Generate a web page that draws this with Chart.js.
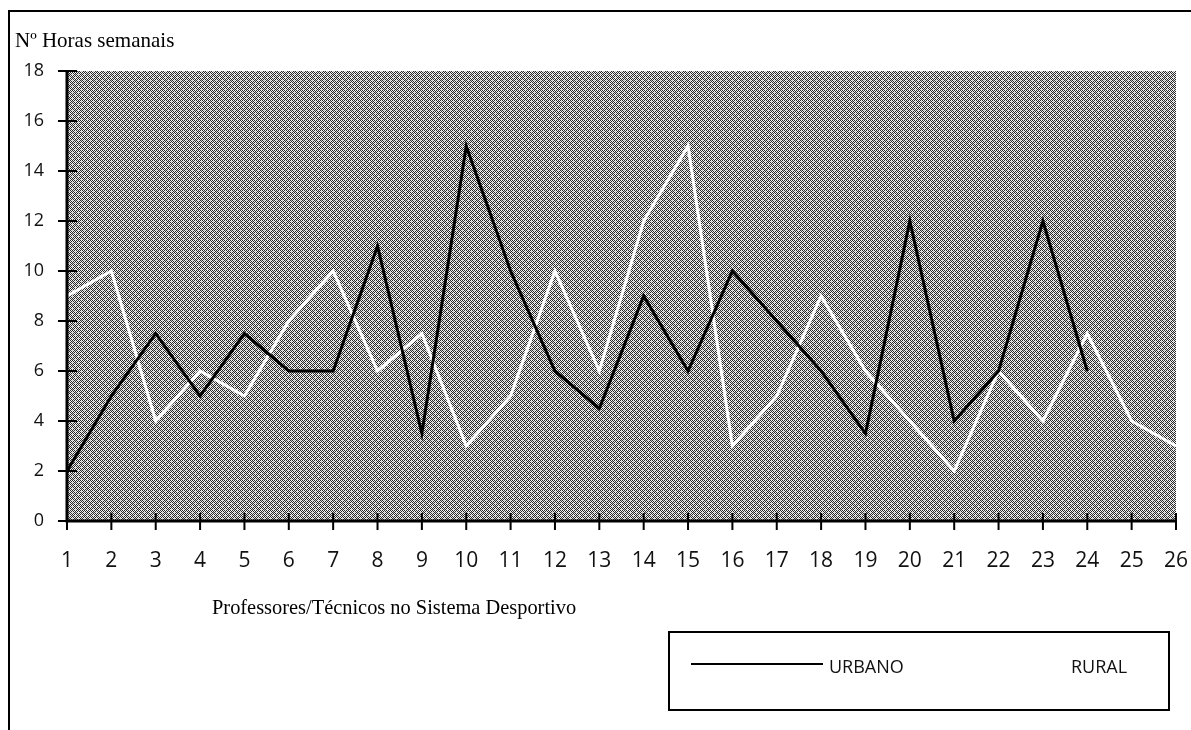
<!DOCTYPE html>
<html>
<head>
<meta charset="utf-8">
<title>Horas semanais - Urbano / Rural</title>
<script src="https://cdn.jsdelivr.net/npm/chart.js@4.4.1/dist/chart.umd.min.js"></script>
<style>
	body { margin: 0; background: #fff; width: 1191px; height: 730px; overflow: hidden; position: relative; }
	#frame { position: absolute; left: 8px; top: 10px; width: 1200px; height: 740px; border-left: 2px solid #000; border-top: 2px solid #000; }
	#chartCanvas { position: absolute; left: 0; top: 0; }
	.serif { position: absolute; font-family: "Liberation Serif", "Times New Roman", serif; color: #000; white-space: nowrap; line-height: 1; }
	#yTitle { left: 15px; top: 30px; font-size: 21px; }
	#xTitle { left: 212px; top: 597px; font-size: 20.4px; }
	#legendBox { position: absolute; left: 668px; top: 631px; width: 498px; height: 76px; border: 2px solid #000; }
	#legendLine { position: absolute; left: 691px; top: 663px; width: 132px; height: 2px; background: #000; }
	.legendText { position: absolute; top: 656px; font-family: "Open Sans", sans-serif; font-size: 18px; line-height: 20px; color: #111; }
</style>
</head>
<body>
<div id="frame"></div>
<canvas id="chartCanvas" width="1191" height="730"></canvas>
<div id="yTitle" class="serif">Nº Horas semanais</div>
<div id="xTitle" class="serif">Professores/Técnicos no Sistema Desportivo</div>
<div id="legendBox"></div>
<div id="legendLine"></div>
<div class="legendText" style="left: 829px;">URBANO</div>
<div class="legendText" style="left: 1071px;">RURAL</div>

<script>
// values
const professores = ['1', '2', '3', '4', '5', '6', '7', '8', '9', '10', '11', '12', '13',
	'14', '15', '16', '17', '18', '19', '20', '21', '22', '23', '24', '25', '26'];

const urbano = [2, 5, 7.5, 5, 7.5, 6, 6, 11, 3.5, 15, 10, 6, 4.5, 9, 6, 10, 8, 6, 3.5, 12, 4, 6, 12, 6];

const rural = [9, 10, 4, 6, 5, 8, 10, 6, 7.5, 3, 5, 10, 6, 12, 15, 3, 5, 9, 6, 4, 2, 6, 4, 7.5, 4, 3];

const yMin = 0;
const yMax = 18;
const yStep = 2;

document.addEventListener('DOMContentLoaded', function() {

	createLineChart();

});

function makeDitherPattern(ctx) {

	// small black/white tile, roughly like the printed dot screen
	const tile = document.createElement('canvas');
	tile.width = 6;
	tile.height = 6;
	const t = tile.getContext('2d');

	for (let y = 0; y < 6; y++) {
		for (let x = 0; x < 6; x++) {
			const dark = (x + y) % 2 === 0;
			t.fillStyle = dark ? '#2a2a2a' : '#f2f2f2';
			if (y % 3 === 2 && x % 3 === 0) t.fillStyle = '#bbb';
			t.fillRect(x, y, 1, 1);
		}
	}

	return ctx.createPattern(tile, 'repeat');

}

const plotBackground = {
	id: 'plotBackground',
	beforeDraw(chart) {
		const { ctx, chartArea } = chart;
		ctx.save();
		ctx.fillStyle = makeDitherPattern(ctx);
		ctx.fillRect(chartArea.left, chartArea.top, chartArea.right - chartArea.left, chartArea.bottom - chartArea.top);
		ctx.restore();
	}
};

// tick marks that cross the axis lines
const crossTicks = {
	id: 'crossTicks',
	afterDraw(chart) {
		const { ctx, chartArea, scales } = chart;
		ctx.save();
		ctx.strokeStyle = '#000';
		ctx.lineWidth = 2;
		ctx.beginPath();
		scales.x.ticks.forEach((tick, i) => {
			const px = scales.x.getPixelForTick(i);
			ctx.moveTo(px, chartArea.bottom - 8);
			ctx.lineTo(px, chartArea.bottom + 9);
		});
		scales.y.ticks.forEach((tick, i) => {
			const py = scales.y.getPixelForTick(i);
			ctx.moveTo(chartArea.left - 9, py);
			ctx.lineTo(chartArea.left + 10, py);
		});
		ctx.stroke();

		// axis lines
		ctx.lineWidth = 3;
		ctx.beginPath();
		ctx.moveTo(chartArea.left, chartArea.top);
		ctx.lineTo(chartArea.left, chartArea.bottom);
		ctx.lineTo(chartArea.right, chartArea.bottom);
		ctx.stroke();
		ctx.restore();
	}
};

function createLineChart() {

	const ctx = document.getElementById('chartCanvas').getContext('2d');

	new Chart(ctx, {

		type: 'line',

		data: {

			labels: professores,

			datasets: [
				{
					label: 'URBANO',
					data: urbano,
					borderColor: '#000',
					borderWidth: 3,
					pointRadius: 0,
					tension: 0
				},
				{
					label: 'RURAL',
					data: rural,
					borderColor: '#fff',
					borderWidth: 3,
					pointRadius: 0,
					tension: 0
				}
			]

		},

		options: {

			responsive: false,
			animation: false,
			devicePixelRatio: 1,

			layout: {
				padding: { left: 9, top: 71, right: 15, bottom: 0 }
			},

			plugins: {
				legend: { display: false },
				tooltip: { enabled: false }
			},

			scales: {

				x: {
					offset: false,
					grid: { display: false },
					border: { display: false },
					ticks: {
						autoSkip: false,
						maxRotation: 0,
						padding: 19,
						color: '#111',
						font: { family: 'Open Sans', size: 21 }
					},
					afterFit: scale => {
						scale.height = 209;
						// let the last label hang past the plot edge, as in the original
						scale.paddingLeft = 0;
						scale.paddingRight = 0;
					}
				},

				y: {
					min: yMin,
					max: yMax,
					grid: { display: false },
					border: { display: false },
					ticks: {
						stepSize: yStep,
						padding: 15,
						color: '#111',
						font: { family: 'Open Sans', size: 18 }
					},
					afterFit: scale => { scale.width = 58; }
				}

			}

		},

		plugins: [plotBackground, crossTicks]

	});

}
</script>
</body>
</html>
